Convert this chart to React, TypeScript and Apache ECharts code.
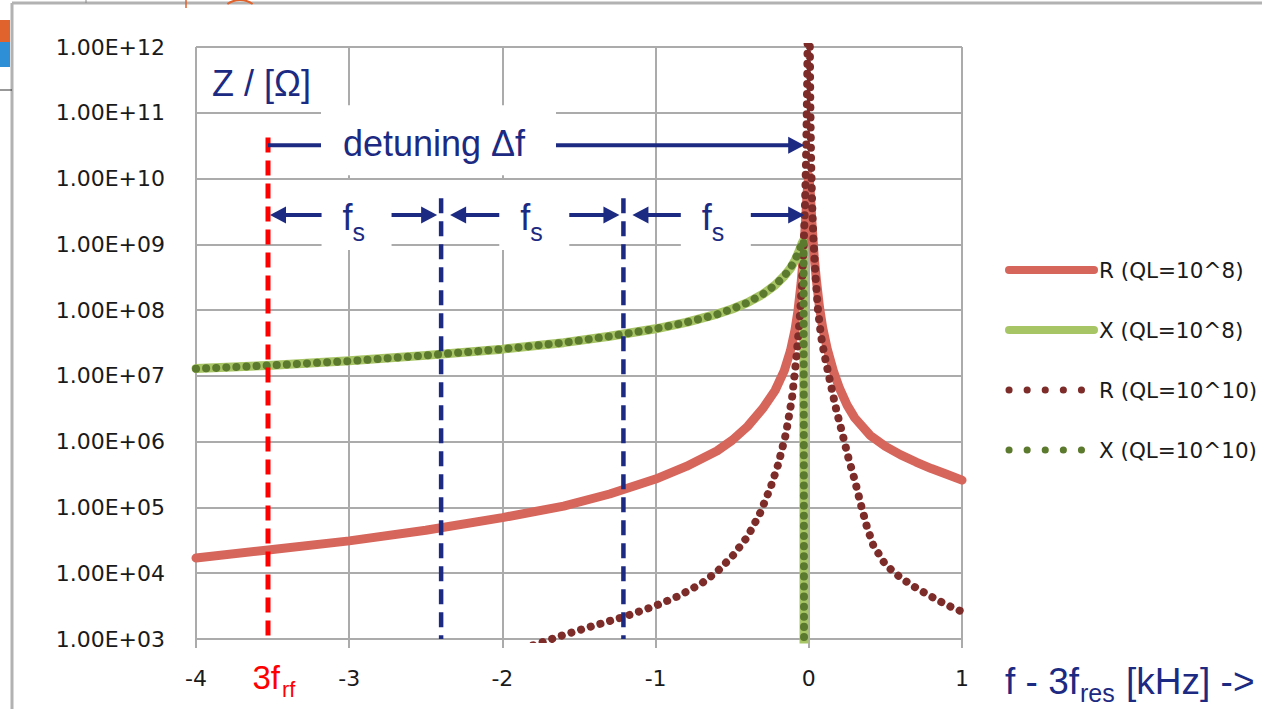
import { useEffect, useRef } from 'react';
import * as echarts from 'echarts';

const W = 1262;
const H = 709;

// ---- data (x in kHz relative to 3 f_res, y = impedance in Ohm) ----
const xTicks = [-4, -3, -2, -1, 0, 1];
const seriesNames = ['R (QL=10^8)', 'X (QL=10^8)', 'R (QL=10^10)', 'X (QL=10^10)'];

const rQL8: [number, number][] = [
  [-4, 1.7e4], [-3.5, 2.3e4], [-3, 3.1e4], [-2.5, 4.5e4], [-2, 7e4], [-1.6, 1.05e5],
  [-1.3, 1.6e5], [-1, 2.7e5], [-0.8, 4.2e5], [-0.6, 7.2e5], [-0.5, 1.05e6], [-0.4, 1.7e6],
  [-0.3, 3.2e6], [-0.22, 6e6], [-0.16, 1.2e7], [-0.12, 2.4e7], [-0.09, 5e7], [-0.07, 1e8],
  [-0.05, 2.6e8], [-0.035, 7e8], [-0.02, 2.5e9], [-0.01, 6.5e9], [0, 1.1e10], [0.01, 6e9],
  [0.02, 2.2e9], [0.035, 6.5e8], [0.05, 2.8e8], [0.07, 1.1e8], [0.09, 5.5e7], [0.12, 2.6e7],
  [0.16, 1.2e7], [0.2, 6.5e6], [0.25, 3.6e6], [0.3, 2.3e6], [0.4, 1.25e6], [0.5, 8.5e5],
  [0.6, 6.3e5], [0.7, 4.9e5], [0.8, 3.9e5], [0.9, 3.2e5], [1, 2.6e5],
];

const xQL8: [number, number][] = [
  [-4, 1.3e7], [-3.5, 1.45e7], [-3, 1.7e7], [-2.5, 2.05e7], [-2, 2.55e7], [-1.6, 3.2e7],
  [-1.3, 4e7], [-1, 5.2e7], [-0.8, 6.5e7], [-0.6, 8.7e7], [-0.5, 1.04e8], [-0.4, 1.3e8],
  [-0.3, 1.75e8], [-0.22, 2.4e8], [-0.16, 3.3e8], [-0.12, 4.3e8], [-0.09, 5.7e8],
  [-0.07, 7.2e8], [-0.055, 8.8e8], [-0.045, 1.02e9], [-0.038, 1.1e9], [-0.033, 9e8],
  [-0.031, 5e2],
];

const rQL10: [number, number][] = [
  [-1.8, 8e2], [-1.6, 1.15e3], [-1.4, 1.6e3], [-1.2, 2.2e3], [-1, 3.2e3], [-0.85, 4.5e3],
  [-0.7, 7e3], [-0.6, 1.05e4], [-0.5, 1.8e4], [-0.4, 3.6e4], [-0.32, 8e4], [-0.25, 2e5],
  [-0.2, 4.5e5], [-0.15, 1.3e6], [-0.11, 4.5e6], [-0.08, 2e7], [-0.06, 7e7], [-0.045, 2.5e8],
  [-0.033, 1e9], [-0.025, 4e9], [-0.019, 1.5e10], [-0.014, 8e10], [-0.01, 4e11],
  [-0.006, 3e12], [0.004, 3e12], [0.007, 1e12], [0.01, 1.5e11], [0.015, 2e10], [0.022, 4e9],
  [0.03, 1.2e9], [0.045, 3e8], [0.06, 1e8], [0.08, 4e7], [0.1, 2.2e7], [0.14, 8e6],
  [0.18, 3e6], [0.22, 1.3e6], [0.26, 5.5e5], [0.3, 2.6e5], [0.34, 1.1e5], [0.38, 5e4],
  [0.42, 2.7e4], [0.5, 1.35e4], [0.6, 8.5e3], [0.7, 6e3], [0.8, 4.4e3], [0.9, 3.3e3],
  [1, 2.6e3],
];

const xQL10: [number, number][] = [
  [-4, 1.28e7], [-3.5, 1.45e7], [-3, 1.68e7], [-2.5, 2.05e7], [-2, 2.55e7], [-1.6, 3.2e7],
  [-1.3, 4e7], [-1, 5.2e7], [-0.8, 6.5e7], [-0.6, 8.6e7], [-0.5, 1.04e8], [-0.4, 1.3e8],
  [-0.3, 1.75e8], [-0.22, 2.4e8], [-0.16, 3.3e8], [-0.12, 4.4e8], [-0.09, 5.8e8],
  [-0.07, 7.4e8], [-0.055, 9e8], [-0.045, 1.05e9], [-0.038, 1.15e9], [-0.034, 1.05e9],
  [-0.031, 5e2],
];

// ---- annotation anchors (data units) ----
const rfLineX = -3.53;
const fsLineXs = [-2.4, -1.21];
const resonanceX = -0.03;
const detuningY = 3.2e10;
const fsArrowY = 2.8e9;
const redLineTopY = 4.2e10;
const navyLineTopY = 5e9;

const NAVY = '#1c2a82';
const RED = '#ff0000';
const TICK_FONT = 'DejaVu Sans';
const ANN_FONT = '"Liberation Sans", Arial, sans-serif';

function measure(text: string, size: number, family: string) {
  const c = document.createElement('canvas').getContext('2d')!;
  c.font = `${size}px ${family}`;
  return c.measureText(text).width;
}

function txt(text: string, x: number, y: number, size: number, color: string, align = 'left', valign = 'middle') {
  return {
    type: 'text', x, y, z: 110, silent: true,
    style: {
      text, fill: color, fontSize: size, fontFamily: ANN_FONT,
      align, textAlign: align, verticalAlign: valign, textVerticalAlign: valign,
    },
  };
}

export default function App() {
  const ref = useRef<HTMLDivElement>(null);

  useEffect(() => {
    const el = ref.current!;
    const chart = echarts.init(el, undefined, { renderer: 'svg', width: W, height: H });
    const dotted = [0.1, 10];
    const gridColor = '#ababab';

    chart.setOption({
      animation: false,
      backgroundColor: '#ffffff',
      grid: { left: 196, right: W - 962, top: 47, bottom: H - 639, containLabel: false },
      xAxis: {
        type: 'value', min: xTicks[0], max: xTicks[xTicks.length - 1], interval: 1,
        axisLine: { show: true, onZero: false, lineStyle: { color: gridColor, width: 2 } },
        axisTick: { show: true, length: 9, lineStyle: { color: gridColor, width: 2 } },
        splitLine: { show: true, lineStyle: { color: gridColor, width: 2 } },
        axisLabel: { margin: 28, color: '#1a1a1a', fontSize: 22, fontFamily: TICK_FONT },
      },
      yAxis: {
        type: 'log', logBase: 10, min: 1e3, max: 1e12, splitNumber: 9,
        axisLine: { show: true, lineStyle: { color: gridColor, width: 2 } },
        axisTick: { show: true, length: 9, lineStyle: { color: gridColor, width: 2 } },
        splitLine: { show: true, lineStyle: { color: gridColor, width: 2 } },
        minorTick: { show: false },
        axisLabel: {
          margin: 31, color: '#1a1a1a', fontSize: 22, fontFamily: TICK_FONT,
          formatter: (v: number) => {
            const e = Math.round(Math.log10(v));
            return '1.00E+' + (e < 10 ? '0' + e : String(e));
          },
        },
      },
      legend: {
        orient: 'vertical', left: 1005, top: 258, padding: 0,
        itemWidth: 85, itemHeight: 14, itemGap: 36,
        textStyle: { fontFamily: TICK_FONT, fontSize: 21.5, color: '#1a1a1a', lineHeight: 24 },
        itemStyle: { opacity: 0, borderWidth: 0 },
        lineStyle: { width: 8 },
        data: [
          { name: seriesNames[0] },
          { name: seriesNames[1] },
          { name: seriesNames[2], lineStyle: { width: 7, type: [0.1, 18] } },
          { name: seriesNames[3], lineStyle: { width: 7, type: [0.1, 18] } },
        ],
      },
      series: [
        {
          name: seriesNames[0], type: 'line', data: rQL8, symbol: 'none', showSymbol: false,
          lineStyle: { color: '#d6655c', width: 9, cap: 'round', join: 'round' },
          itemStyle: { color: '#d6655c' }, z: 2,
        },
        {
          name: seriesNames[1], type: 'line', data: xQL8, symbol: 'none', showSymbol: false,
          lineStyle: { color: '#a8c566', width: 9, cap: 'round', join: 'round' },
          itemStyle: { color: '#a8c566' }, z: 3,
        },
        {
          name: seriesNames[2], type: 'line', data: rQL10, symbol: 'none', showSymbol: false,
          lineStyle: { color: '#7d2c2a', width: 8, type: dotted, cap: 'round', join: 'round' },
          itemStyle: { color: '#7d2c2a' }, z: 4,
        },
        {
          name: seriesNames[3], type: 'line', data: xQL10, symbol: 'none', showSymbol: false,
          lineStyle: { color: '#5c7a2d', width: 8, type: dotted, cap: 'round', join: 'round' },
          itemStyle: { color: '#5c7a2d' }, z: 5,
        },
      ],
    });

    const px = (x: number, y: number) => chart.convertToPixel({ gridIndex: 0 }, [x, y]) as number[];
    const bottomY = px(0, 1e3)[1];
    const topY = px(0, 1e12)[1];
    const leftX = px(-4, 1e3)[0];

    const els: any[] = [];
    const line = (x1: number, y1: number, x2: number, y2: number, stroke: string, lw: number, dash?: number[]) =>
      els.push({ type: 'line', z: 100, silent: true, shape: { x1, y1, x2, y2 }, style: { stroke, lineWidth: lw, lineDash: dash } });
    const head = (tx: number, ty: number, dir: number) =>
      els.push({
        type: 'polygon', z: 101, silent: true,
        shape: { points: [[tx, ty], [tx - dir * 16, ty - 8.5], [tx - dir * 16, ty + 8.5]] },
        style: { fill: NAVY },
      });
    const box = (x: number, y: number, w: number, h: number) =>
      els.push({ type: 'rect', z: 105, silent: true, shape: { x, y, width: w, height: h }, style: { fill: '#ffffff' } });

    // slide frame decorations
    line(12, 3, 12, H, '#b2b2b2', 3);
    line(12, 3, W, 3, '#b2b2b2', 3);
    els.push({ type: 'rect', z: 100, silent: true, shape: { x: 0, y: 20, width: 10, height: 22 }, style: { fill: '#e0622c' } });
    els.push({ type: 'rect', z: 100, silent: true, shape: { x: 0, y: 42, width: 10, height: 25 }, style: { fill: '#2e8fd6' } });
    line(0, 90, 12, 90, '#333333', 1);
    line(86, 0, 86, 3, '#888888', 1);
    line(186, 0, 186, 8, '#e0622c', 1.5);
    els.push({
      type: 'arc', z: 100, silent: true,
      shape: { cx: 240, cy: 22, r: 22, startAngle: (-125 * Math.PI) / 180, endAngle: (-55 * Math.PI) / 180 },
      style: { stroke: '#e0622c', lineWidth: 2, fill: 'none' },
    });

    // dashed vertical markers
    const [rfPx, rfTop] = px(rfLineX, redLineTopY);
    line(rfPx, rfTop, rfPx, bottomY, RED, 5, [15, 8]);
    const navyPx = fsLineXs.map((x) => px(x, navyLineTopY));
    navyPx.forEach(([x, y]) => line(x, y, x, bottomY, NAVY, 4.5, [15, 8]));

    // detuning arrow
    const [resPx, detPy] = px(resonanceX, detuningY);
    line(rfPx, detPy, resPx - 14, detPy, NAVY, 4);
    head(resPx, detPy, 1);

    // fs arrows
    const fsPy = px(0, fsArrowY)[1];
    const anchors = [rfPx, navyPx[0][0], navyPx[1][0], resPx];
    for (let i = 0; i < 3; i++) {
      const lt = anchors[i] + (i === 0 ? 2 : 9);
      const rt = anchors[i + 1] - (i === 2 ? 0 : 4);
      line(lt + 14, fsPy, rt - 14, fsPy, NAVY, 4);
      head(lt, fsPy, -1);
      head(rt, fsPy, 1);
    }

    // white label boxes
    box(rfPx + 53, detPy - 40, 235, 70);
    const fsCenters = [0, 1, 2].map((i) => (anchors[i] + anchors[i + 1]) / 2 + 2);
    fsCenters.forEach((c) => box(c - 35, fsPy - 35, 70, 70));

    // texts
    els.push(txt('detuning \u0394f', rfPx + 166, detPy - 2, 36, NAVY, 'center'));
    fsCenters.forEach((c) => {
      els.push(txt('f', c - 4, fsPy + 3, 36, NAVY, 'right'));
      els.push(txt('s', c - 4, fsPy + 17, 25, NAVY, 'left'));
    });
    els.push(txt('Z / [\u03a9]', leftX + 16, topY + 36, 36, NAVY, 'left'));

    // 3f_rf label under red line
    els.push(txt('3f', rfPx + 12, bottomY + 38, 33, RED, 'right'));
    els.push(txt('rf', rfPx + 14, bottomY + 50, 22, RED, 'left'));

    // x-axis title
    const t1 = 'f - 3f';
    const t2 = 'res';
    const t3 = ' [kHz] ->';
    const tx0 = 1005;
    const w1 = measure(t1, 37, ANN_FONT);
    const w2 = measure(t2, 25, ANN_FONT);
    els.push(txt(t1, tx0, bottomY + 42, 37, NAVY, 'left'));
    els.push(txt(t2, tx0 + w1 + 1, bottomY + 54, 25, NAVY, 'left'));
    els.push(txt(t3, tx0 + w1 + w2 + 2, bottomY + 42, 37, NAVY, 'left'));

    chart.setOption({ graphic: { elements: els } });

    return () => chart.dispose();
  }, []);

  return <div ref={ref} style={{ position: 'absolute', left: 0, top: 0, width: W, height: H }} />;
}
